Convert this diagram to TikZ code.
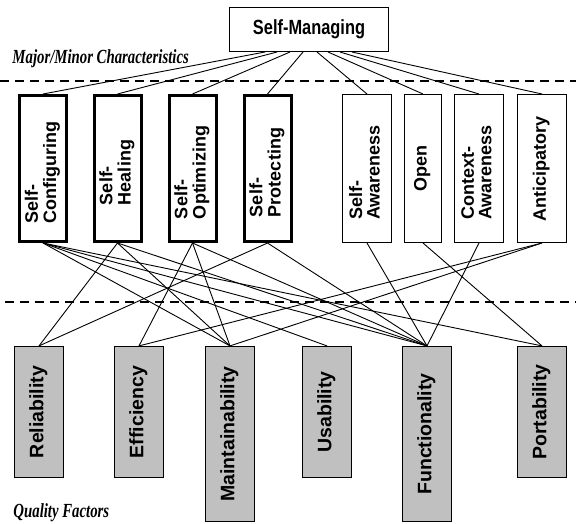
\documentclass[tikz,border=0pt]{standalone}
\usepackage{fontspec}
\usepackage{graphicx}
\usepackage{tikz}
\usetikzlibrary{arrows,positioning,calc}
\newfontfamily\boxfont{Liberation Sans}
\newfontfamily\narrowfont[FakeStretch=0.8]{Liberation Sans}
\newfontfamily\capfont[FakeStretch=0.74]{Liberation Serif}
\definecolor{factorgray}{RGB}{192,192,192}
\newcommand{\vone}[1]{\rotatebox{90}{\begin{tabular}{@{}l@{}}#1\end{tabular}}}
\newcommand{\vtwo}[2]{\rotatebox{90}{\begin{tabular}{@{}l@{\hspace{8pt}}}#1\\#2\end{tabular}}}

\begin{document}
\begin{tikzpicture}[x=1pt, y=-1pt, line width=0.9pt,
 major/.style={draw, line width=3pt, minimum width=47pt, minimum height=146pt, inner sep=0pt,
  font=\boxfont\bfseries\fontsize{18}{17.5}\selectfont},
 minor/.style={draw, line width=1pt, minimum width=49pt, minimum height=148pt, inner sep=0pt,
  font=\boxfont\bfseries\fontsize{18}{17.5}\selectfont},
 factor/.style={draw, fill=factorgray, line width=1.2pt, minimum width=49pt, inner sep=0pt,
  font=\boxfont\bfseries\fontsize{19.5}{18}\selectfont},
 caption/.style={anchor=base west, inner sep=0pt, font=\capfont\bfseries\itshape\fontsize{20}{20}\selectfont},
 sep/.style={dashed, line width=2.5pt, dash pattern=on 9pt off 6pt}]
\useasboundingbox (0,0) rectangle (576,523);
\node[draw, line width=1pt, minimum width=159pt, minimum height=44pt,
 font=\narrowfont\bfseries\fontsize{20.5}{20}\selectfont] (sm) at (309,29.5) {Self-Managing};
\node[caption] (majmin) at (12,63) {Major/Minor Characteristics};
\draw[sep] (0,81) -- (576,81);
% characteristics
\node[major] (c1) at (43,168.5) {\vtwo{Self-}{Configuring}};
\node[major] (c2) at (117.5,168.5) {\vtwo{Self-}{Healing}};
\node[major] (c3) at (192.5,168.5) {\vtwo{Self-}{Optimizing}};
\node[major] (c4) at (267.5,168.5) {\vtwo{Self-}{Protecting}};
\node[minor] (c5) at (367,168.5) {\vtwo{Self-}{Awareness}};
\node[minor, minimum width=37pt] (c6) at (423,168.5) {\vone{Open}};
\node[minor] (c7) at (479,168.5) {\vtwo{Context-}{Awareness}};
\node[minor] (c8) at (542,168.5) {\vone{Anticipatory}};
\draw[sep] (5,302) -- (576,302);
% quality factors
\node[factor, minimum height=131pt] (q1) at (39,412) {\vone{Reliability}};
\node[factor, minimum height=131pt] (q2) at (139,412) {\vone{Efficiency}};
\node[factor, minimum height=175pt] (q3) at (230,434) {\vone{Maintainability}};
\node[factor, minimum height=131pt] (q4) at (327,412) {\vone{Usability}};
\node[factor, minimum height=175pt] (q5) at (427,434) {\vone{Functionality}};
\node[factor, minimum height=131pt] (q6) at (542,412) {\vone{Portability}};
\node[caption] (qf) at (13,517) {Quality Factors};
\path ([xshift=-44pt]sm.south) edge (c1.north)
      ([xshift=-32pt]sm.south) edge (c2.north)
      ([xshift=-19pt]sm.south) edge (c3.north)
      ([xshift=-6pt]sm.south) edge (c4.north)
      ([xshift=8pt]sm.south) edge (c5.north)
      ([xshift=19pt]sm.south) edge (c6.north)
      ([xshift=31pt]sm.south) edge (c7.north)
      ([xshift=43pt]sm.south) edge (c8.north);
\path (c1.south) edge (q3.north) edge (q4.north) edge (q5.north) edge (q6.north);
\path (c2.south) edge (q1.north) edge (q3.north) edge (q5.north);
\path (c3.south) edge (q2.north) edge (q3.north) edge (q5.north);
\path (c4.south) edge (q1.north) edge (q5.north);
\path (c5.south) edge (q5.north);
\path (c6.south) edge (q6.north);
\path (c7.south) edge (q5.north);
\path (c8.south) edge (q2.north) edge (q3.north);
\end{tikzpicture}
\end{document}
